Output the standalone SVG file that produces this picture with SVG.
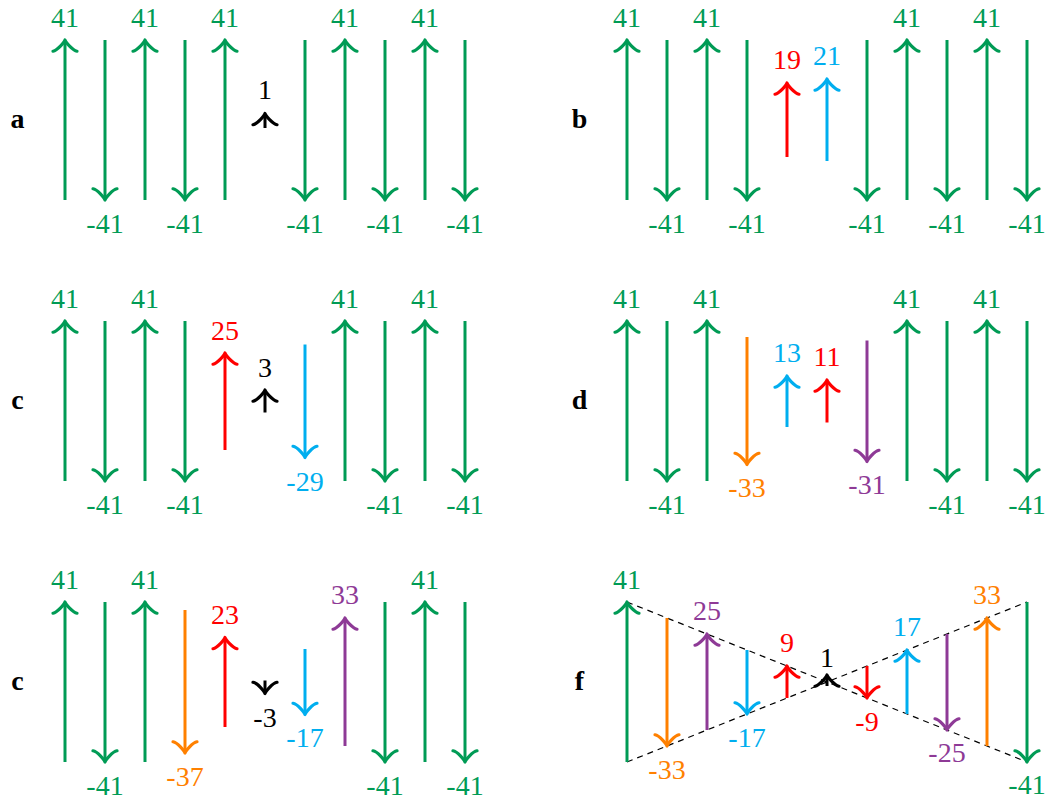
<svg xmlns="http://www.w3.org/2000/svg" width="1049" height="800" viewBox="0 0 1049 800">
<style>
text{font-family:"Liberation Serif","Times New Roman",serif;font-size:28px;text-anchor:middle}
.pl{font-weight:bold;fill:#000}
.a{stroke-width:3;fill:none}
.g{stroke:#009B55}.gt{fill:#009B55}
.r{stroke:#FF0000}.rt{fill:#FF0000}
.b{stroke:#00AEEF}.bt{fill:#00AEEF}
.o{stroke:#FF8000}.ot{fill:#FF8000}
.p{stroke:#8E3A96}.pt{fill:#8E3A96}
.k{stroke:#000}.kt{fill:#000}
.g.a{marker-end:url(#mg)}.r.a{marker-end:url(#mr)}.b.a{marker-end:url(#mb)}
.o.a{marker-end:url(#mo)}.p.a{marker-end:url(#mp)}.k.a{marker-end:url(#mk)}
.dash{stroke:#000;stroke-width:1.2;stroke-dasharray:6 5;fill:none}
</style>
<defs>
<path id="hd" d="M -9.75,-12 C -9,-7.5 -0.75,-0.75 1.5,0 C -0.75,0.75 -9,7.5 -9.75,12" stroke-width="3.2" fill="none" stroke-linecap="round" stroke-linejoin="round"/>
<marker id="mg" markerUnits="userSpaceOnUse" orient="auto" overflow="visible" refX="0" refY="0" markerWidth="1" markerHeight="1"><use href="#hd" stroke="#009B55"/></marker>
<marker id="mr" markerUnits="userSpaceOnUse" orient="auto" overflow="visible" refX="0" refY="0" markerWidth="1" markerHeight="1"><use href="#hd" stroke="#FF0000"/></marker>
<marker id="mb" markerUnits="userSpaceOnUse" orient="auto" overflow="visible" refX="0" refY="0" markerWidth="1" markerHeight="1"><use href="#hd" stroke="#00AEEF"/></marker>
<marker id="mo" markerUnits="userSpaceOnUse" orient="auto" overflow="visible" refX="0" refY="0" markerWidth="1" markerHeight="1"><use href="#hd" stroke="#FF8000"/></marker>
<marker id="mp" markerUnits="userSpaceOnUse" orient="auto" overflow="visible" refX="0" refY="0" markerWidth="1" markerHeight="1"><use href="#hd" stroke="#8E3A96"/></marker>
<marker id="mk" markerUnits="userSpaceOnUse" orient="auto" overflow="visible" refX="0" refY="0" markerWidth="1" markerHeight="1"><use href="#hd" stroke="#000"/></marker>
</defs>

<!-- Panel a -->
<g id="panel-a">
<text class="pl" x="17.5" y="128">a</text>
<g id="a-0"><line class="a g" x1="65" y1="200" x2="65" y2="41.5"/><text class="gt" x="65" y="26.5">41</text></g>
<g id="a-1"><line class="a g" x1="105" y1="40" x2="105" y2="198.5"/><text class="gt" x="105" y="232.5">-41</text></g>
<g id="a-2"><line class="a g" x1="145" y1="200" x2="145" y2="41.5"/><text class="gt" x="145" y="26.5">41</text></g>
<g id="a-3"><line class="a g" x1="185" y1="40" x2="185" y2="198.5"/><text class="gt" x="185" y="232.5">-41</text></g>
<g id="a-4"><line class="a g" x1="225" y1="200" x2="225" y2="41.5"/><text class="gt" x="225" y="26.5">41</text></g>
<g id="a-5"><line class="a k" x1="265" y1="128" x2="265" y2="115"/><text class="kt" x="265" y="99">1</text></g>
<g id="a-6"><line class="a g" x1="305" y1="40" x2="305" y2="198.5"/><text class="gt" x="305" y="232.5">-41</text></g>
<g id="a-7"><line class="a g" x1="345" y1="200" x2="345" y2="41.5"/><text class="gt" x="345" y="26.5">41</text></g>
<g id="a-8"><line class="a g" x1="385" y1="40" x2="385" y2="198.5"/><text class="gt" x="385" y="232.5">-41</text></g>
<g id="a-9"><line class="a g" x1="425" y1="200" x2="425" y2="41.5"/><text class="gt" x="425" y="26.5">41</text></g>
<g id="a-10"><line class="a g" x1="465" y1="40" x2="465" y2="198.5"/><text class="gt" x="465" y="232.5">-41</text></g>
</g>

<!-- Panel b -->
<g id="panel-b" transform="translate(562,0)">
<text class="pl" x="17.5" y="128">b</text>
<g id="b-0"><line class="a g" x1="65" y1="200" x2="65" y2="41.5"/><text class="gt" x="65" y="26.5">41</text></g>
<g id="b-1"><line class="a g" x1="105" y1="40" x2="105" y2="198.5"/><text class="gt" x="105" y="232.5">-41</text></g>
<g id="b-2"><line class="a g" x1="145" y1="200" x2="145" y2="41.5"/><text class="gt" x="145" y="26.5">41</text></g>
<g id="b-3"><line class="a g" x1="185" y1="40" x2="185" y2="198.5"/><text class="gt" x="185" y="232.5">-41</text></g>
<g id="b-4"><line class="a r" x1="225" y1="157" x2="225" y2="84.5"/><text class="rt" x="225" y="69">19</text></g>
<g id="b-5"><line class="a b" x1="265" y1="161" x2="265" y2="80.5"/><text class="bt" x="265" y="65">21</text></g>
<g id="b-6"><line class="a g" x1="305" y1="40" x2="305" y2="198.5"/><text class="gt" x="305" y="232.5">-41</text></g>
<g id="b-7"><line class="a g" x1="345" y1="200" x2="345" y2="41.5"/><text class="gt" x="345" y="26.5">41</text></g>
<g id="b-8"><line class="a g" x1="385" y1="40" x2="385" y2="198.5"/><text class="gt" x="385" y="232.5">-41</text></g>
<g id="b-9"><line class="a g" x1="425" y1="200" x2="425" y2="41.5"/><text class="gt" x="425" y="26.5">41</text></g>
<g id="b-10"><line class="a g" x1="465" y1="40" x2="465" y2="198.5"/><text class="gt" x="465" y="232.5">-41</text></g>
</g>

<!-- Panel c (row 2) -->
<g id="panel-c1" transform="translate(0,281)">
<text class="pl" x="17.5" y="128">c</text>
<g id="c1-0"><line class="a g" x1="65" y1="200" x2="65" y2="41.5"/><text class="gt" x="65" y="26.5">41</text></g>
<g id="c1-1"><line class="a g" x1="105" y1="40" x2="105" y2="198.5"/><text class="gt" x="105" y="232.5">-41</text></g>
<g id="c1-2"><line class="a g" x1="145" y1="200" x2="145" y2="41.5"/><text class="gt" x="145" y="26.5">41</text></g>
<g id="c1-3"><line class="a g" x1="185" y1="40" x2="185" y2="198.5"/><text class="gt" x="185" y="232.5">-41</text></g>
<g id="c1-4"><line class="a r" x1="225" y1="169" x2="225" y2="73.5"/><text class="rt" x="225" y="58.5">25</text></g>
<g id="c1-5"><line class="a k" x1="265" y1="131.5" x2="265" y2="110.5"/><text class="kt" x="265" y="95.5">3</text></g>
<g id="c1-6"><line class="a b" x1="305" y1="63.5" x2="305" y2="175"/><text class="bt" x="305" y="209.5">-29</text></g>
<g id="c1-7"><line class="a g" x1="345" y1="200" x2="345" y2="41.5"/><text class="gt" x="345" y="26.5">41</text></g>
<g id="c1-8"><line class="a g" x1="385" y1="40" x2="385" y2="198.5"/><text class="gt" x="385" y="232.5">-41</text></g>
<g id="c1-9"><line class="a g" x1="425" y1="200" x2="425" y2="41.5"/><text class="gt" x="425" y="26.5">41</text></g>
<g id="c1-10"><line class="a g" x1="465" y1="40" x2="465" y2="198.5"/><text class="gt" x="465" y="232.5">-41</text></g>
</g>

<!-- Panel d -->
<g id="panel-d" transform="translate(562,281)">
<text class="pl" x="17.5" y="128">d</text>
<g id="d-0"><line class="a g" x1="65" y1="200" x2="65" y2="41.5"/><text class="gt" x="65" y="26.5">41</text></g>
<g id="d-1"><line class="a g" x1="105" y1="40" x2="105" y2="198.5"/><text class="gt" x="105" y="232.5">-41</text></g>
<g id="d-2"><line class="a g" x1="145" y1="200" x2="145" y2="41.5"/><text class="gt" x="145" y="26.5">41</text></g>
<g id="d-3"><line class="a o" x1="185" y1="56" x2="185" y2="182"/><text class="ot" x="185" y="216">-33</text></g>
<g id="d-4"><line class="a b" x1="225" y1="146" x2="225" y2="96.5"/><text class="bt" x="225" y="81">13</text></g>
<g id="d-5"><line class="a r" x1="265" y1="141.5" x2="265" y2="100.5"/><text class="rt" x="265" y="85">11</text></g>
<g id="d-6"><line class="a p" x1="305" y1="59.5" x2="305" y2="179"/><text class="pt" x="305" y="212.5">-31</text></g>
<g id="d-7"><line class="a g" x1="345" y1="200" x2="345" y2="41.5"/><text class="gt" x="345" y="26.5">41</text></g>
<g id="d-8"><line class="a g" x1="385" y1="40" x2="385" y2="198.5"/><text class="gt" x="385" y="232.5">-41</text></g>
<g id="d-9"><line class="a g" x1="425" y1="200" x2="425" y2="41.5"/><text class="gt" x="425" y="26.5">41</text></g>
<g id="d-10"><line class="a g" x1="465" y1="40" x2="465" y2="198.5"/><text class="gt" x="465" y="232.5">-41</text></g>
</g>

<!-- Panel c (row 3) -->
<g id="panel-c2" transform="translate(0,562)">
<text class="pl" x="17.5" y="128">c</text>
<g id="c2-0"><line class="a g" x1="65" y1="200" x2="65" y2="41.5"/><text class="gt" x="65" y="26.5">41</text></g>
<g id="c2-1"><line class="a g" x1="105" y1="40" x2="105" y2="198.5"/><text class="gt" x="105" y="232.5">-41</text></g>
<g id="c2-2"><line class="a g" x1="145" y1="200" x2="145" y2="41.5"/><text class="gt" x="145" y="26.5">41</text></g>
<g id="c2-3"><line class="a o" x1="185" y1="48" x2="185" y2="189.5"/><text class="ot" x="185" y="224">-37</text></g>
<g id="c2-4"><line class="a r" x1="225" y1="165" x2="225" y2="77"/><text class="rt" x="225" y="62">23</text></g>
<g id="c2-5"><line class="a k" x1="265" y1="118.5" x2="265" y2="130"/><text class="kt" x="265" y="164.5">-3</text></g>
<g id="c2-6"><line class="a b" x1="305" y1="87" x2="305" y2="151"/><text class="bt" x="305" y="185">-17</text></g>
<g id="c2-7"><line class="a p" x1="345" y1="184" x2="345" y2="57.5"/><text class="pt" x="345" y="42">33</text></g>
<g id="c2-8"><line class="a g" x1="385" y1="40" x2="385" y2="198.5"/><text class="gt" x="385" y="232.5">-41</text></g>
<g id="c2-9"><line class="a g" x1="425" y1="200" x2="425" y2="41.5"/><text class="gt" x="425" y="26.5">41</text></g>
<g id="c2-10"><line class="a g" x1="465" y1="40" x2="465" y2="198.5"/><text class="gt" x="465" y="232.5">-41</text></g>
</g>

<!-- Panel f -->
<g id="panel-f" transform="translate(562,562)">
<text class="pl" x="17.5" y="128">f</text>
<g id="f-connectors">
<line class="dash" x1="65" y1="40" x2="465" y2="200"/>
<line class="dash" x1="65" y1="200" x2="465" y2="40"/>
</g>
<g id="f-0"><line class="a g" x1="65" y1="200" x2="65" y2="41.5"/><text class="gt" x="65" y="26.5">41</text></g>
<g id="f-1"><line class="a o" x1="105" y1="56" x2="105" y2="182.5"/><text class="ot" x="105" y="216.5">-33</text></g>
<g id="f-2"><line class="a p" x1="145" y1="168" x2="145" y2="73.5"/><text class="pt" x="145" y="58">25</text></g>
<g id="f-3"><line class="a b" x1="185" y1="88" x2="185" y2="150.5"/><text class="bt" x="185" y="184.5">-17</text></g>
<g id="f-4"><line class="a r" x1="225" y1="136" x2="225" y2="105.5"/><text class="rt" x="225" y="90">9</text></g>
<g id="f-5"><line class="a k" x1="265" y1="124" x2="265" y2="114.5"/><text class="kt" x="265" y="104.5">1</text></g>
<g id="f-6"><line class="a r" x1="305" y1="104" x2="305" y2="134.5"/><text class="rt" x="305" y="168.5">-9</text></g>
<g id="f-7"><line class="a b" x1="345" y1="152" x2="345" y2="89.5"/><text class="bt" x="345" y="74">17</text></g>
<g id="f-8"><line class="a p" x1="385" y1="72" x2="385" y2="166.5"/><text class="pt" x="385" y="200">-25</text></g>
<g id="f-9"><line class="a o" x1="425" y1="184" x2="425" y2="57.5"/><text class="ot" x="425" y="42">33</text></g>
<g id="f-10"><line class="a g" x1="465" y1="40" x2="465" y2="198.5"/><text class="gt" x="465" y="232">-41</text></g>
</g>
</svg>
